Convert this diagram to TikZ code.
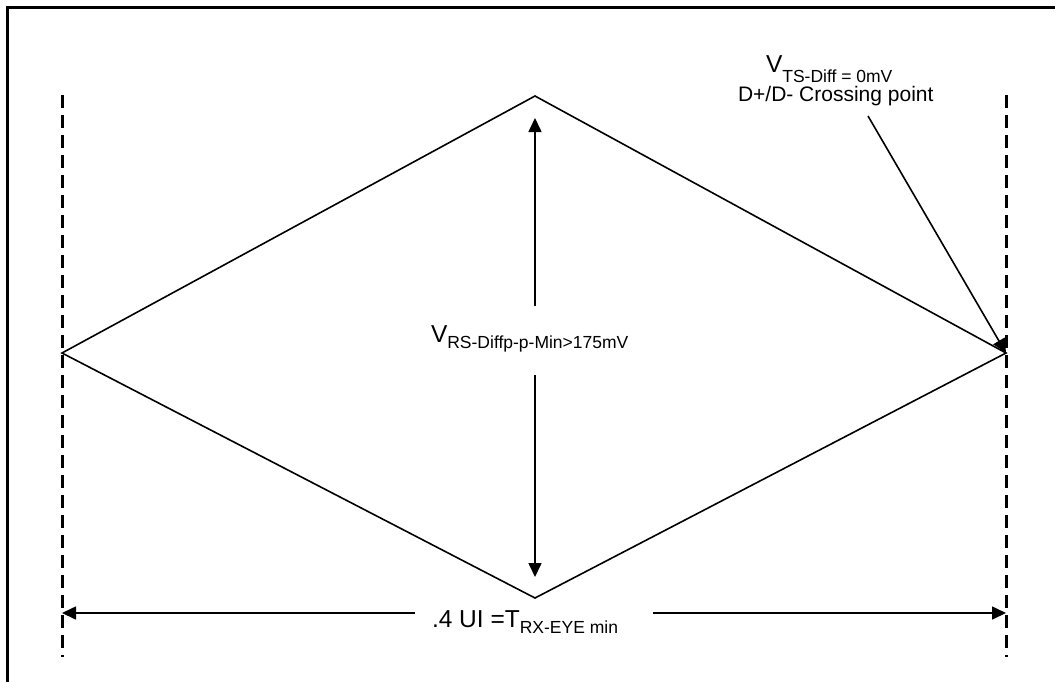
\documentclass[tikz,border=0pt]{standalone}
\usepackage{fontspec}
\setmainfont{Liberation Sans}
\usetikzlibrary{arrows.meta}
\newcommand{\mainsz}{\fontsize{24.5}{24.5}\selectfont}
\newcommand{\midsz}{\fontsize{21}{21}\selectfont}
\newcommand{\subsz}{\fontsize{17.5}{17.5}\selectfont}
\tikzset{
  frame/.style={line width=3pt},
  guide/.style={line width=3pt, dash pattern=on 13pt off 7pt},
  eye/.style={line width=1.6pt, line join=miter},
  dim/.style={line width=1.6pt, -{Triangle[length=14pt,width=13pt]}},
  lbl/.style={anchor=base west, inner sep=0pt, outer sep=0pt}
}
\begin{document}
\begin{tikzpicture}[x=1pt,y=-1pt]
\useasboundingbox (0,0) rectangle (1055,681);
% frame (only left and top edges visible)
\coordinate (f1) at (7,700);
\coordinate (f2) at (7,7.5);
\coordinate (f3) at (1070,7.5);
\draw[frame] (f1) -- (f2) -- (f3);
% dashed guides
\coordinate (gl1) at (62,95);
\coordinate (gl2) at (62,657);
\coordinate (gr1) at (1006,95);
\coordinate (gr2) at (1006,657);
\draw[guide] (gl1) -- (gl2);
\draw[guide] (gr1) -- (gr2);
% eye diamond
\coordinate (L) at (62,353);
\coordinate (T) at (535,96);
\coordinate (R) at (1006,353);
\coordinate (B) at (535,598);
\draw[eye] (L) -- (T) -- (R) -- (B) -- cycle;
% vertical dimension
\coordinate (vtop) at (535,118);
\coordinate (vbot) at (535,577);
\coordinate (va1) at (535,306);
\coordinate (va2) at (535,375);
\draw[dim] (va1) -- (vtop);
\draw[dim] (va2) -- (vbot);
\node[lbl] (vmain) at (431,342) {\mainsz V};
\node[lbl] (vsub) at (vmain.base east) [yshift=-6pt] {\subsz RS-Diffp-p-Min>175mV};
% horizontal dimension
\coordinate (hl) at (62,613);
\coordinate (hr) at (1006,613);
\coordinate (h1) at (415,613);
\coordinate (h2) at (653,613);
\draw[dim] (h1) -- (hl);
\draw[dim] (h2) -- (hr);
\node[lbl] (hmain) at (432,627) {\mainsz .4 UI =T};
\node[lbl] (hsub) at (hmain.base east) [yshift=-6pt] {\subsz RX-EYE min};
% crossing point label
\node[lbl] (tmain) at (766,72) {\mainsz V};
\node[lbl] (tsub) at (tmain.base east) [yshift=-10pt] {\subsz TS-Diff = 0mV};
\node[lbl] (tline) at (738,101) {\midsz D+/D- Crossing point};
\coordinate (ta) at (868,116);
\draw[dim] (ta) -- (R);
\end{tikzpicture}
\end{document}
